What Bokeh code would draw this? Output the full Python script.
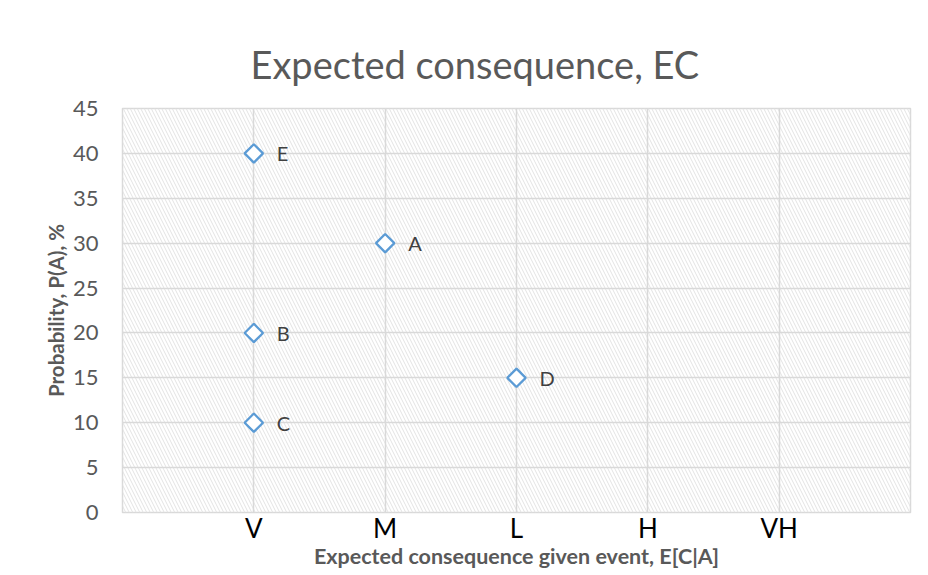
import math
from bokeh.plotting import figure
from bokeh.models import ColumnDataSource, FixedTicker, BoxAnnotation
from bokeh.core.properties import value
from bokeh.embed import file_html
from bokeh.resources import INLINE

# --- data ---
categories = ["V", "M", "L", "H", "VH"]
cat_pos = [1, 2, 3, 4, 5]
point_names = ["E", "A", "B", "C", "D"]
point_cat = ["V", "M", "V", "V", "L"]
point_prob = [40, 30, 20, 10, 15]
y_ticks = [0, 5, 10, 15, 20, 25, 30, 35, 40, 45]

FONT = "Lato"
GRAY = "#595959"
GRID = "#d9d9d9"
BLUE = "#5b9bd5"

xpos = [cat_pos[categories.index(c)] for c in point_cat]
src = ColumnDataSource(dict(x=xpos, y=point_prob, name=point_names))

p = figure(
    frame_width=788, frame_height=404,
    x_range=(0, 6), y_range=(0, 45),
    output_backend="svg", toolbar_location=None,
    min_border_left=122, min_border_top=108, min_border_right=10, min_border_bottom=50,
    background_fill_color="white", border_fill_color="white",
)
p.outline_line_color = GRID
p.outline_line_width = 1.5

# hatched plot area
hatch = BoxAnnotation(fill_alpha=0, line_alpha=0, hatch_pattern="\\", hatch_color="#e3e3e3",
                      hatch_scale=7, hatch_weight=1, level="image")
p.add_layout(hatch)

# title
p.title.text = "Expected consequence, EC"
p.title.text_font = FONT
p.title.text_font_size = "38px"
p.title.text_font_style = "normal"
p.title.text_color = GRAY
p.title.align = "left"
p.title.offset = 128
p.title.standoff = 44

# grids
p.xgrid.ticker = FixedTicker(ticks=cat_pos)
p.ygrid.ticker = FixedTicker(ticks=y_ticks)
p.xgrid.grid_line_color = GRID
p.ygrid.grid_line_color = GRID
p.xgrid.grid_line_width = 1.5
p.ygrid.grid_line_width = 1.5

# x axis
xa = p.xaxis[0]
xa.ticker = FixedTicker(ticks=cat_pos)
xa.major_label_overrides = {pos: c for pos, c in zip(cat_pos, categories)}
xa.axis_line_color = None
xa.major_tick_line_color = None
xa.minor_tick_line_color = None
xa.major_tick_in = 0
xa.major_tick_out = 0
xa.major_label_text_font = FONT
xa.major_label_text_font_size = "26px"
xa.major_label_text_color = "#000000"
xa.major_label_standoff = -1
xa.axis_label = "Expected consequence given event, E[C|A]"
xa.axis_label_text_font = FONT
xa.axis_label_text_font_size = "21.5px"
xa.axis_label_text_font_style = "bold"
xa.axis_label_text_color = GRAY
xa.axis_label_standoff = -4

# y axis
ya = p.yaxis[0]
ya.ticker = FixedTicker(ticks=y_ticks)
ya.axis_line_color = None
ya.major_tick_line_color = None
ya.minor_tick_line_color = None
ya.major_label_text_font = FONT
ya.major_label_text_font_size = "22px"
ya.major_label_text_color = GRAY
ya.major_label_standoff = 18
ya.axis_label = "Probability, P(A), %"
ya.axis_label_text_font = FONT
ya.axis_label_text_font_size = "20.5px"
ya.axis_label_text_font_style = "bold"
ya.axis_label_text_color = GRAY
ya.axis_label_standoff = 2

# points
p.scatter("x", "y", source=src, marker="square", angle=math.pi / 4, size=13,
          fill_color="white", line_color=BLUE, line_width=2.3)
p.text("x", "y", text="name", source=src, x_offset=23, text_baseline="middle",
       text_font=value(FONT), text_font_size="20px", text_color="#404040")

open("out.html", "w").write(file_html(p, INLINE))
